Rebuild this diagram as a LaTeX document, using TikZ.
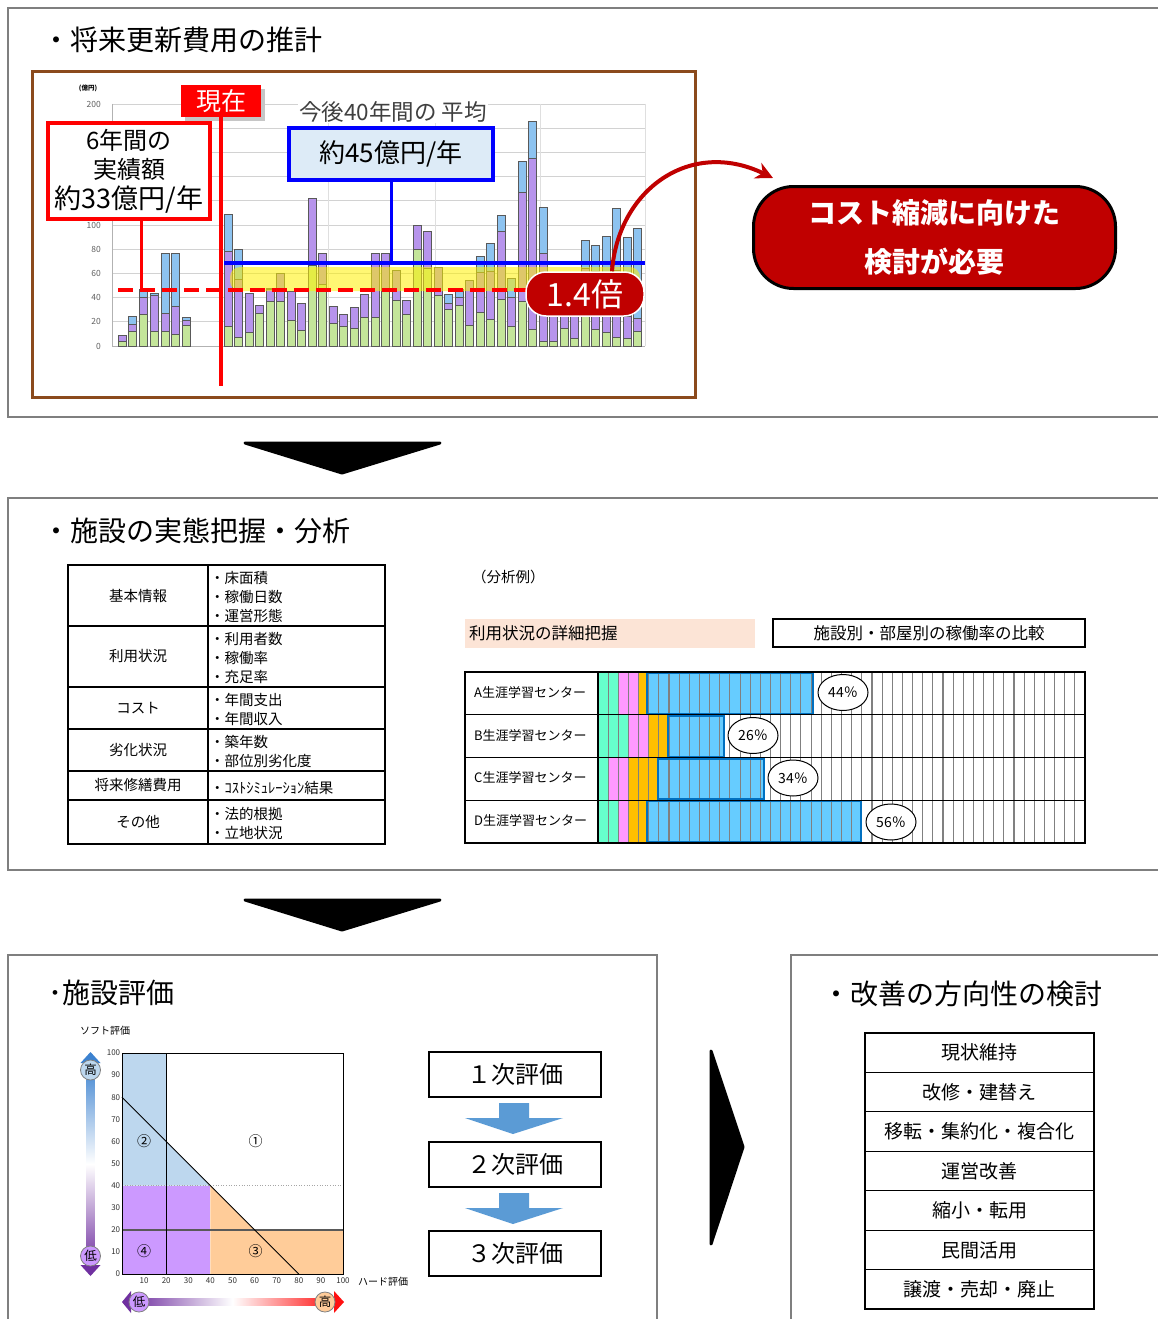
\documentclass[tikz,border=0pt]{standalone}
\usepackage{fontspec}
\setmainfont{Noto Sans CJK JP}
\usetikzlibrary{arrows.meta,shapes.geometric,calc}
\definecolor{barG}{HTML}{C4E59A}
\definecolor{barP}{HTML}{B794EC}
\definecolor{barB}{HTML}{8DC3F0}
\definecolor{darkred}{HTML}{C00000}
\definecolor{frameBrown}{HTML}{8B4A1C}
\definecolor{lightblue}{HTML}{DDEBF7}
\definecolor{pinkbg}{HTML}{FCE4D6}
\definecolor{mint}{HTML}{66FFCC}
\definecolor{pinkc}{HTML}{FF99FF}
\definecolor{orangec}{HTML}{FFC000}
\definecolor{bluec}{HTML}{66CCFF}
\definecolor{blueb}{HTML}{0070C0}
\definecolor{regB}{HTML}{BDD7EE}
\definecolor{regP}{HTML}{CC99FF}
\definecolor{regO}{HTML}{FFCC99}
\definecolor{arrowblue}{HTML}{5B9BD5}
\definecolor{panelgray}{HTML}{7F7F7F}
\definecolor{gradBlue}{HTML}{3C82D0}
\definecolor{gradPurple}{HTML}{7030A0}
\definecolor{gradRed}{HTML}{FF1010}
\newcommand{\fsz}[2]{\fontsize{#1}{#2}\selectfont}
\begin{document}
\begin{tikzpicture}[x=1pt,y=-1pt,
  panel/.style={draw=panelgray,line width=1.5pt},
  ptitle/.style={anchor=west,inner sep=0pt,font=\fsz{28}{32}},
  bigarrow/.style={fill=black,draw=black,line width=3pt,line join=round},
  barline/.style={draw=black!65,line width=0.5pt},
  tcell/.style={inner sep=0pt,font=\fsz{14.5}{19}},
  rowlabel/.style={anchor=west,inner sep=0pt,font=\fsz{13}{13}},
  pct/.style={ellipse,draw=black,line width=1pt,fill=white,minimum width=50pt,minimum height=36pt,inner sep=0pt,font=\fsz{14}{14}},
  evalbox/.style={draw=black,line width=2pt,minimum width=172pt,minimum height=45pt,inner sep=0pt,font=\fsz{24}{24}},
  optbox/.style={draw=black,line width=1.2pt,minimum width=229pt,minimum height=39.43pt,inner sep=0pt,font=\fsz{19}{19}},
  circlab/.style={circle,draw=gray,line width=0.8pt,minimum size=20pt,inner sep=0pt,font=\fsz{12.5}{12.5}},
  reglab/.style={inner sep=0pt,font=\fsz{14}{14}},
  ticklab/.style={inner sep=1pt,font=\fsz{8}{8},text=black!80}
]
\useasboundingbox[fill=white] (0,0) rectangle (1158,1319);

% ---------------- panels ----------------
\draw[panel] (8,8) rectangle (1175,417);
\draw[panel] (8,498) rectangle (1175,870);
\draw[panel] (8,955) rectangle (657,1335);
\draw[panel] (791,955) rectangle (1175,1335);

\node[ptitle] (t1) at (42,40) {・将来更新費用の推計};
\node[ptitle] (t2) at (42,531) {・施設の実態把握・分析};
\node[ptitle] (t3) at (48,993) {･施設評価};
\node[ptitle] (t4) at (822,994) {・改善の方向性の検討};

% big black arrows
\fill[bigarrow] (245,443) -- (440,443) -- (342,473) -- cycle;
\fill[bigarrow] (245,900) -- (440,900) -- (342,930) -- cycle;
\fill[bigarrow] (711,1051) -- (743,1147) -- (711,1244) -- cycle;

% ---------------- chart (section 1) ----------------
\draw[frameBrown,line width=3pt] (32,72) rectangle (695,397);
\foreach \v in {20,40,...,200}
  \draw[gray!35,line width=0.8pt] (112,{346-1.21*\v}) -- (645,{346-1.21*\v});
\foreach \xv in {328,435,540,645}
  \draw[gray!25,line width=0.6pt] (\xv,104) -- (\xv,346);
\draw[gray!60,line width=0.8pt] (112,104) -- (112,346) -- (645,346);
\foreach \v in {0,20,40,60,80,100,200}
  \node[anchor=east,inner sep=0pt,font=\fsz{8.5}{9},text=gray!75!black] at (101,{346-1.21*\v}) {\v};
\node[inner sep=0pt,font=\bfseries\fsz{6.5}{7}] (unit) at (88,88) {(億円)};

\begin{scope}[shift={(0,346)},y=1.21pt]
\foreach \i/\vg/\vp/\vt in {0/4/9/9,1/12/18/25,2/26/40/47,3/12/42/44,4/12/27/77,5/10/33/77,6/17/21/24}{
  \pgfmathsetmacro\xx{118+10.7*\i}
  \draw[barline,fill=barB] (\xx,0) rectangle ++(8,\vt);
  \draw[barline,fill=barP] (\xx,0) rectangle ++(8,\vp);
  \draw[barline,fill=barG] (\xx,0) rectangle ++(8,\vg);
}
\foreach \i/\vg/\vp/\vt in {0/16/78/109,1/7/55/80,2/11/44/44,3/27/34/34,4/37/47/48,5/37/60/60,6/21/45/45,7/13/35/35,8/67/122/122,9/51/77/77,10/19/33/33,11/16/26/26,12/15/32/32,13/24/43/43,14/24/77/77,15/48/77/77,16/38/63/63,17/26/38/38,18/80/100/100,19/64/95/95,20/42/65/65,21/30/35/43,22/34/40/47,23/17/54/54,24/28/61/74,25/22/62/85,26/39/95/108,27/16/40/56,28/37/127/153,29/14/155/186,30/4/77/115,31/4/55/60,32/15/45/50,33/6/40/45,34/27/64/87,35/14/62/83,36/11/60/91,37/7/63/114,38/6/25/90,39/12/23/97}{
  \pgfmathsetmacro\xx{224+10.5*\i}
  \draw[barline,fill=barB] (\xx,0) rectangle ++(8,\vt);
  \draw[barline,fill=barP] (\xx,0) rectangle ++(8,\vp);
  \draw[barline,fill=barG] (\xx,0) rectangle ++(8,\vg);
}
\end{scope}

% yellow band
\fill[yellow,opacity=0.55,rounded corners=10pt] (230,267) rectangle (640,291);
% red average line (dashed)
\coordinate (rdL) at (118,290);
\coordinate (rdR) at (560,290);
\draw[red,line width=4pt,dash pattern=on 15pt off 7pt] (rdL) -- (rdR);
% blue average line
\coordinate (blL) at (224,263);
\coordinate (blR) at (645,263);
\draw[blue,line width=4.5pt] (blL) -- (blR);

% now marker
\fill[gray!45] (185,89) rectangle (265,121);
\node[fill=red,text=white,minimum width=80pt,minimum height=32pt,inner sep=0pt,font=\fsz{25}{25}] (now) at (221,101) {現在};
\coordinate (nowBot) at (221,386);
\draw[red,line width=4pt] (now.south) -- (nowBot);

% 33 box
\node[draw=red,line width=3.5pt,fill=white,minimum width=162pt,minimum height=96pt,inner sep=0pt,align=center,font=\fsz{24}{29.5}] (box33) at (129,171) {6年間の\\実績額\\{\fsz{27}{29.5}約33億円/年}};
\coordinate (rv) at (141,290);
\draw[red,line width=3pt] ([xshift=12pt]box33.south) -- (rv);

% average title + 45 box
\node[fill=white,inner sep=1pt,font=\fsz{22.5}{24},text=black!75] (avgt) at (393,112) {今後40年間の 平均};
\node[draw=blue,line width=3.5pt,fill=lightblue,minimum width=204pt,minimum height=52pt,inner sep=0pt,font=\fsz{26}{26}] (box45) at (391,154) {約45億円/年};
\draw[blue,line width=3pt] (box45.south) -- (box45.south |- blL);

% 1.4 times
\node[fill=darkred,draw=white,line width=1.5pt,rounded corners=20pt,minimum width=118pt,minimum height=44pt,inner sep=0pt,text=white,font=\fsz{32}{32}] (ratio) at (585,294) {1.4倍};
\coordinate (arrEnd) at (773,178);
\draw[darkred,line width=4pt,-{Stealth[length=17pt,width=17pt]}] ([xshift=27pt]ratio.north) .. controls (618,190) and (690,138) .. (arrEnd);

% cost box
\node[fill=darkred,draw=black,line width=3pt,rounded corners=40pt,minimum width=362pt,minimum height=102pt,inner sep=0pt,text=white,align=center,font=\bfseries\fsz{28}{49}] (cost) at (934.5,237.5) {コスト縮減に向けた\\検討が必要};

% ---------------- section 2: table ----------------
\draw[black,line width=1.2pt] (208,565) -- (208,844);
\foreach \yy in {626,687,729,771,800}
  \draw[black,line width=1.2pt] (68,\yy) -- (385,\yy);
\draw[black,line width=2pt] (68,565) rectangle (385,844);

\node[tcell] (k1) at (138,595.5) {基本情報};
\node[tcell] (k2) at (138,656.5) {利用状況};
\node[tcell] (k3) at (138,708) {コスト};
\node[tcell] (k4) at (138,750) {劣化状況};
\node[tcell] (k5) at (138,785.5) {将来修繕費用};
\node[tcell] (k6) at (138,822) {その他};
\node[tcell,anchor=west,align=left] (v1) at (210,597) {・床面積\\・稼働日数\\・運営形態};
\node[tcell,anchor=west,align=left] (v2) at (210,658) {・利用者数\\・稼働率\\・充足率};
\node[tcell,anchor=west,align=left] (v3) at (210,709.5) {・年間支出\\・年間収入};
\node[tcell,anchor=west,align=left] (v4) at (210,751.5) {・築年数\\・部位別劣化度};
\node[tcell,anchor=west,align=left] (v5) at (210,788) {・ｺｽﾄｼﾐｭﾚｰｼｮﾝ結果};
\node[tcell,anchor=west,align=left] (v6) at (210,823.5) {・法的根拠\\・立地状況};

% analysis example
\node[anchor=west,inner sep=0pt,font=\fsz{14.5}{15}] (ex) at (472,577) {（分析例）};
\node[fill=pinkbg,minimum width=290pt,minimum height=29pt,text width=282pt,inner xsep=4pt,inner ysep=0pt,align=left,font=\fsz{16.5}{17}] (pinkh) at (610,633.5) {利用状況の詳細把握};
\node[draw=black,line width=1.3pt,minimum width=312pt,minimum height=28pt,inner sep=0pt,font=\fsz{16.5}{17}] (cmp) at (929,633) {施設別・部屋別の稼働率の比較};

\foreach \ry/\m/\pk/\o/\bl in {672/618/638/647/813,714.75/629/648/668/724,757.5/608/629/658/764,800.25/618/628/647/861}{
  \fill[mint] (598,\ry) rectangle (\m,{\ry+42.75});
  \fill[pinkc] (\m,\ry) rectangle (\pk,{\ry+42.75});
  \fill[orangec] (\pk,\ry) rectangle (\o,{\ry+42.75});
  \fill[bluec] (\o,\ry) rectangle (\bl,{\ry+42.75});
}
\foreach \k in {1,...,47}
  \draw[gray,line width=1.1pt] ({598+\k*10.146},672) -- ({598+\k*10.146},843);
\foreach \ry/\o/\bl in {672/647/813,714.75/668/724,757.5/658/764,800.25/647/861}
  \draw[blueb,line width=2pt] (\o,{\ry+1}) rectangle (\bl,{\ry+41.75});
\foreach \yy in {714.75,757.5,800.25}
  \draw[black,line width=1.1pt] (465,\yy) -- (1085,\yy);
\draw[black,line width=1.1pt] (598,672) -- (598,843);
\draw[black,line width=1.5pt] (465,672) rectangle (1085,843);

\node[rowlabel] (lA) at (474,692.5) {A生涯学習センター};
\node[rowlabel] (lB) at (474,735.5) {B生涯学習センター};
\node[rowlabel] (lC) at (474,778) {C生涯学習センター};
\node[rowlabel] (lD) at (474,821) {D生涯学習センター};
\node[pct] (pA) at (843,692.5) {44％};
\node[pct] (pB) at (753,735.5) {26％};
\node[pct] (pC) at (793,778) {34％};
\node[pct] (pD) at (891,822) {56％};

% ---------------- section 3: evaluation chart ----------------
\begin{scope}[shift={(122,1274)},x=2.21pt,y=2.21pt]
  \fill[regB] (0,40) -- (0,100) -- (20,100) -- (20,60) -- (40,40) -- cycle;
  \fill[regP] (0,0) rectangle (40,40);
  \fill[regO] (40,0) -- (40,40) -- (60,20) -- (100,20) -- (100,0) -- cycle;
  \draw[gray!70,line width=0.6pt,dotted] (0,40) -- (100,40);
  \draw[black!65,line width=1.5pt] (0,20) -- (100,20);
  \draw[black,line width=1pt] (20,0) -- (20,100);
  \draw[black,line width=1pt] (0,80) -- (80,0);
  \draw[black,line width=1pt] (0,0) rectangle (100,100);
  \foreach \v in {0,10,...,100}
    \node[ticklab,anchor=east] at (-0.3,\v) {\v};
  \foreach \v in {10,20,...,100}
    \node[ticklab,anchor=north] at (\v,-1.2) {\v};
  \node[reglab] (r1) at (60.5,60.3) {①};
  \node[reglab] (r2) at (10,60.3) {②};
  \node[reglab] (r3) at (60.5,10.5) {③};
  \node[reglab] (r4) at (10,10.5) {④};
\end{scope}
\node[inner sep=0pt,font=\fsz{10}{10}] (soft) at (105,1031) {ソフト評価};
\node[inner sep=0pt,font=\fsz{10}{10}] (hard) at (383,1282) {ハード評価};

% vertical gradient arrow
\shade[top color=gradBlue,bottom color=gradPurple,middle color=white] (86.5,1062) rectangle (94.5,1266);
\fill[gradBlue] (80.5,1063) -- (90.5,1052) -- (100.5,1063) -- cycle;
\fill[gradPurple] (80.5,1265) -- (90.5,1276) -- (100.5,1265) -- cycle;
\node[circlab,fill=regB] (hiV) at (90.5,1070) {高};
\node[circlab,fill=regP] (loV) at (90.5,1256) {低};
% horizontal gradient arrow
\shade[left color=gradPurple,right color=gradRed,middle color=white] (131,1298.5) rectangle (334,1305.5);
\fill[gradPurple] (131,1291) -- (122,1302) -- (131,1313) -- cycle;
\fill[gradRed] (334,1291) -- (344,1302) -- (334,1313) -- cycle;
\node[circlab,fill=regP] (loH) at (139,1302) {低};
\node[circlab,fill=regO] (hiH) at (325,1302) {高};

% evaluation steps
\node[evalbox] (e1) at (515,1074.5) {１次評価};
\node[evalbox] (e2) at (515,1164.5) {２次評価};
\node[evalbox] (e3) at (515,1253.5) {３次評価};
\fill[arrowblue] ($(e1.south)+(-16,5)$) -- ++(30,0) -- ++(0,15) -- ++(34,0) -- ++(-50,16) -- ++(-48,-16) -- ++(34,0) -- cycle;
\fill[arrowblue] ($(e2.south)+(-16,5)$) -- ++(30,0) -- ++(0,15) -- ++(34,0) -- ++(-50,16) -- ++(-48,-16) -- ++(34,0) -- cycle;

% options list
\node[optbox] (o1) at (979.5,1052.7) {現状維持};
\node[optbox] (o2) at (979.5,1092.1) {改修・建替え};
\node[optbox] (o3) at (979.5,1131.6) {移転・集約化・複合化};
\node[optbox] (o4) at (979.5,1171.0) {運営改善};
\node[optbox] (o5) at (979.5,1210.4) {縮小・転用};
\node[optbox] (o6) at (979.5,1249.9) {民間活用};
\node[optbox] (o7) at (979.5,1289.3) {譲渡・売却・廃止};
\end{tikzpicture}
\end{document}
